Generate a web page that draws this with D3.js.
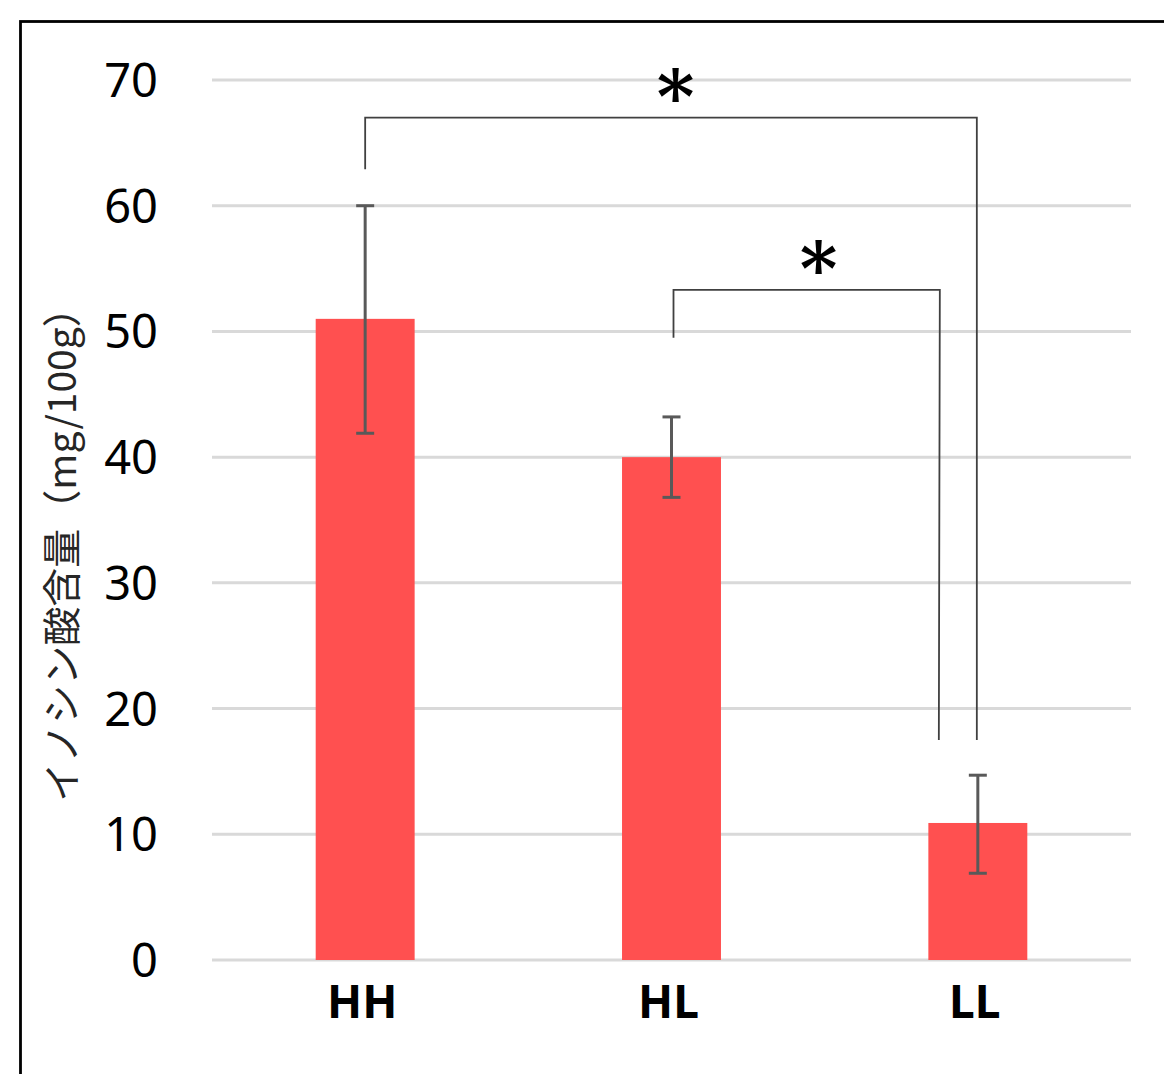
<!DOCTYPE html>
<html><head><meta charset="utf-8">
<script src="https://cdn.jsdelivr.net/npm/d3@7"></script>
<style>body{margin:0;background:#fff}svg{display:block}</style>
</head><body>
<svg id="c" width="1164" height="1074"></svg>
<script>
const categories = ["HH", "HL", "LL"];
const values = [51.0, 40.0, 10.9];
const errLow = [41.9, 36.8, 6.9];
const errHigh = [60.0, 43.2, 14.7];
const yTicks = [0, 10, 20, 30, 40, 50, 60, 70];
const yTitle = "イノシン酸含量（mg/100g）";
// significance brackets: [from, to, left-foot value, right-foot value, top value]
const brackets = [
  {from: "HH", to: "LL", footFrom: 62.9, footTo: 17.5, top: 67.0},
  {from: "HL", to: "LL", footFrom: 49.5, footTo: 17.5, top: 53.3}
];

const svg = d3.select("#c");
const W = 1164, H = 1074;
const m = {left: 212, right: 1131, top: 80, bottom: 960};

// border
svg.append("rect").attr("x", 20.5).attr("y", 21.5).attr("width", W + 10).attr("height", H + 10)
  .attr("fill", "none").attr("stroke", "#000").attr("stroke-width", 2.8);

const x = d3.scaleBand().domain(categories).range([m.left, m.right]).paddingInner(0.677).paddingOuter(0.3385);
const y = d3.scaleLinear().domain([0, 70]).range([m.bottom, m.top]);

// gridlines
svg.append("g").selectAll("line").data(yTicks).join("line")
  .attr("x1", m.left).attr("x2", m.right)
  .attr("y1", d => y(d)).attr("y2", d => y(d))
  .attr("stroke", "#d9d9d9").attr("stroke-width", 3);

// y axis labels
const yAxis = d3.axisLeft(y).tickValues(yTicks).tickSize(0).tickPadding(0);
const ga = svg.append("g").attr("transform", `translate(158,0)`).call(yAxis);
ga.select(".domain").remove();
ga.selectAll("text").attr("font-family", "'Noto Sans', sans-serif").attr("font-size", 47)
  .attr("fill", "#000").attr("dy", "0.35em");

// bars
svg.append("g").selectAll("rect").data(categories).join("rect")
  .attr("x", d => x(d)).attr("width", x.bandwidth())
  .attr("y", (d, i) => y(values[i])).attr("height", (d, i) => y(0) - y(values[i]))
  .attr("fill", "#ff5050");

// error bars
const eb = svg.append("g").attr("stroke", "#595959").attr("stroke-width", 3);
categories.forEach((c, i) => {
  const cx = x(c) + x.bandwidth() / 2;
  eb.append("line").attr("x1", cx).attr("x2", cx).attr("y1", y(errLow[i])).attr("y2", y(errHigh[i]));
  [errLow[i], errHigh[i]].forEach(v => {
    eb.append("line").attr("x1", cx - 9).attr("x2", cx + 9).attr("y1", y(v)).attr("y2", y(v));
  });
});

// x labels
const xAxis = d3.axisBottom(x).tickSize(0).tickPadding(0);
const gx = svg.append("g").attr("transform", `translate(0,1018)`).call(xAxis);
gx.select(".domain").remove();
gx.selectAll("text").attr("font-family", "'Noto Sans', sans-serif").attr("font-weight", "bold")
  .attr("font-size", 46).attr("fill", "#000").attr("dy", 0).attr("dx", -3);

// brackets
const bx = (c) => x(c) + x.bandwidth() / 2;
const bg = svg.append("g").attr("fill", "none").attr("stroke", "#404040").attr("stroke-width", 1.8);
const b0 = brackets[0], b1 = brackets[1];
bg.append("path").attr("d", d3.line()([
  [bx(b0.from), y(b0.footFrom)], [bx(b0.from), y(b0.top)], [bx(b0.to) - 1, y(b0.top)], [bx(b0.to) - 1, y(b0.footTo)]
]));
bg.append("path").attr("d", d3.line()([
  [bx(b1.from) + 2, y(b1.footFrom)], [bx(b1.from) + 2, y(b1.top)], [bx(b1.to) - 38, y(b1.top)], [bx(b1.to) - 39, y(b1.footTo)]
]));

// asterisks
const st = svg.append("g").attr("font-family", "'DejaVu Serif', serif").attr("font-weight", "bold")
  .attr("font-size", 72).attr("text-anchor", "middle").attr("fill", "#000");
st.append("text").attr("x", bx("HL") + 4).attr("y", y(b0.top) + 4).text("*");
st.append("text").attr("x", (bx(b1.from) + bx(b1.to) - 38) / 2 + 13).attr("y", y(b1.top) + 4).text("*");

// y title
svg.append("text").attr("transform", `translate(76,${545}) rotate(-90)`)
  .attr("text-anchor", "middle").attr("font-family", "'Noto Sans CJK JP', sans-serif")
  .attr("font-size", 39).attr("fill", "#262626").text(yTitle);
</script>
</body></html>
